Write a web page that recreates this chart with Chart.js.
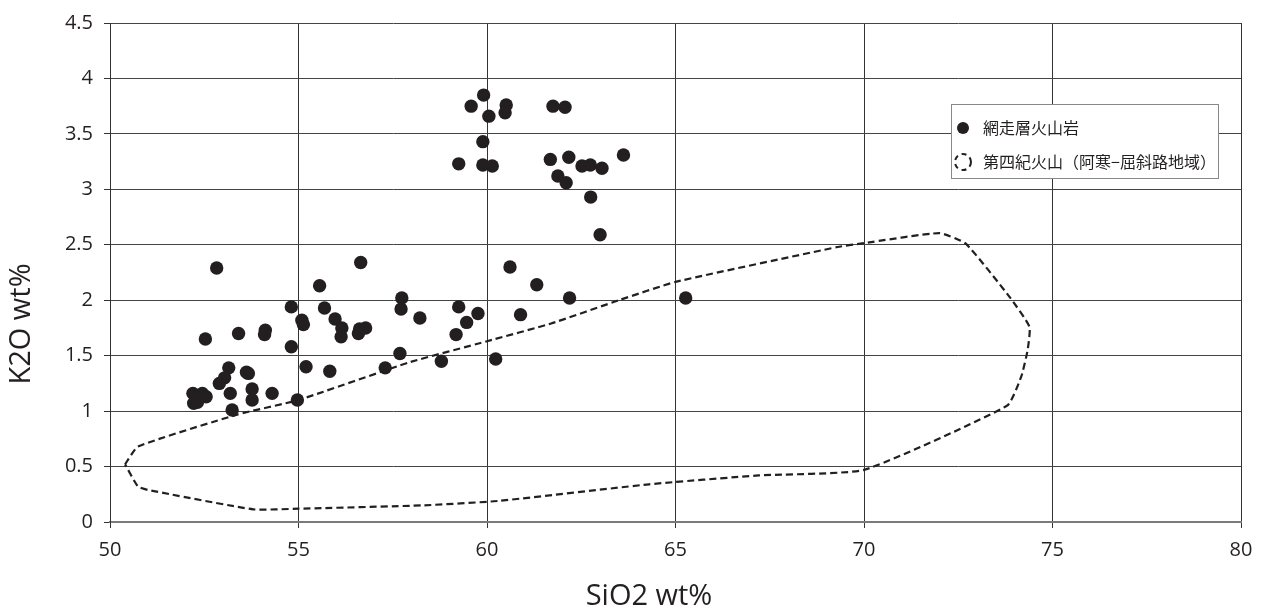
<!DOCTYPE html>
<html>
<head>
<meta charset="utf-8">
<script src="https://cdn.jsdelivr.net/npm/chart.js@4/dist/chart.umd.min.js"></script>
<style>
  html, body { margin: 0; padding: 0; background: #fff; }
  #wrap { width: 1268px; height: 615px; }
</style>
</head>
<body>
<div id="wrap"><canvas id="mainChart" width="1268" height="615"></canvas></div>
<script>
// 網走層火山岩 (SiO2, K2O)
const lavaSiO2 = [
  52.83, 56.65, 55.56, 54.81, 55.69, 57.74, 57.72, 58.22, 55.09, 55.13,
  55.97, 56.15, 56.13, 56.62, 56.78, 56.59, 52.53, 53.41, 54.12, 54.10,
  54.81, 55.20, 55.83, 57.69, 57.30, 53.15, 53.04, 52.90, 53.67, 53.62,
  52.20, 52.45, 52.55, 52.22, 52.32, 53.19, 53.77, 53.77, 54.30, 53.24,
  54.97,
  59.91, 59.58, 60.51, 60.48, 60.05, 61.75, 62.07, 59.89, 59.25, 59.89,
  60.14, 61.68, 62.17, 62.52, 62.74, 63.05, 63.62, 61.88, 62.10, 62.75,
  63.00, 60.61, 61.32, 62.19, 65.27, 59.25, 59.76, 59.46, 60.89, 59.18,
  58.79, 60.23
];
const lavaK2O = [
  2.29, 2.34, 2.13, 1.94, 1.93, 2.02, 1.92, 1.84, 1.82, 1.78,
  1.83, 1.75, 1.67, 1.74, 1.75, 1.70, 1.65, 1.70, 1.73, 1.69,
  1.58, 1.40, 1.36, 1.52, 1.39, 1.39, 1.30, 1.25, 1.34, 1.35,
  1.16, 1.16, 1.13, 1.07, 1.08, 1.16, 1.20, 1.10, 1.16, 1.01,
  1.10,
  3.85, 3.75, 3.76, 3.69, 3.66, 3.75, 3.74, 3.43, 3.23, 3.22,
  3.21, 3.27, 3.29, 3.21, 3.22, 3.19, 3.31, 3.12, 3.06, 2.93,
  2.59, 2.30, 2.14, 2.02, 2.02, 1.94, 1.88, 1.80, 1.87, 1.69,
  1.45, 1.47
];

// 第四紀火山（阿寒−屈斜路地域） outline
const fieldSiO2 = [
  50.40, 50.74, 53.39, 55.00, 57.94, 60.00, 61.70, 63.50, 65.00, 69.30,
  70.00, 72.00, 72.70, 73.86, 74.39, 74.34, 74.17, 73.80, 70.00, 67.20,
  64.30, 60.30, 58.30, 55.00, 53.80, 51.00, 50.74, 50.40
];
const fieldK2O = [
  0.52, 0.68, 0.97, 1.10, 1.44, 1.63, 1.79, 2.00, 2.165, 2.48,
  2.515, 2.605, 2.51, 2.03, 1.76, 1.55, 1.31, 1.05, 0.47, 0.42,
  0.34, 0.19, 0.15, 0.12, 0.114, 0.29, 0.32, 0.52
];

const seriesNames = ['網走層火山岩', '第四紀火山（阿寒−屈斜路地域）'];
const xTitle = 'SiO2 wt%';
const yTitle = 'K2O wt%';

const ink = '#231f20';
const tickFont = { family: '"Open Sans", "Noto Sans", sans-serif', size: 20 };

const pairs = (xs, ys) => xs.map((x, i) => ({ x: x, y: ys[i] }));

// legend box inside the plot + axis titles
const decor = {
  id: 'decor',
  afterDatasetsDraw(chart) {
    const c = chart.ctx;
    const bx = 951, by = 104, bw = 267, bh = 74;
    c.save();
    c.fillStyle = '#fff';
    c.fillRect(bx, by, bw, bh);
    c.strokeStyle = '#888';
    c.lineWidth = 1;
    c.strokeRect(bx + 0.5, by + 0.5, bw, bh);

    c.font = '16px "Noto Sans CJK JP", sans-serif';
    c.textBaseline = 'middle';
    c.textAlign = 'left';
    c.fillStyle = ink;
    // row 1 : filled dot
    c.beginPath();
    c.arc(963, 128, 6, 0, Math.PI * 2);
    c.fill();
    c.fillText(chart.data.datasets[0].label, 983, 128);
    // row 2 : dashed ring
    c.beginPath();
    c.setLineDash([5, 4]);
    c.lineWidth = 2;
    c.strokeStyle = ink;
    c.arc(963, 162, 8, 0, Math.PI * 2);
    c.stroke();
    c.setLineDash([]);
    c.fillText(chart.data.datasets[1].label, 983, 162);

    // axis titles
    c.font = '29px "Open Sans", "Noto Sans", sans-serif';
    c.textAlign = 'center';
    c.fillText(xTitle, 649, 597);
    c.translate(22, 324);
    c.rotate(-Math.PI / 2);
    c.fillText(yTitle, 0, 0);
    c.restore();
  }
};

const chart = new Chart(document.getElementById('mainChart').getContext('2d'), {
  type: 'scatter',
  data: {
    datasets: [
      {
        label: seriesNames[0],
        data: pairs(lavaSiO2, lavaK2O),
        backgroundColor: ink,
        borderWidth: 0,
        pointRadius: 6.7,
        pointHoverRadius: 6.7
      },
      {
        label: seriesNames[1],
        data: pairs(fieldSiO2, fieldK2O),
        showLine: true,
        borderColor: ink,
        borderWidth: 2.2,
        borderDash: [7, 4],
        tension: 0.15,
        pointRadius: 0,
        fill: false
      }
    ]
  },
  options: {
    responsive: false,
    animation: false,
    devicePixelRatio: 1,
    layout: { padding: { top: 21, right: 27, left: 0, bottom: 0 } },
    plugins: {
      legend: { display: false },
      tooltip: { enabled: false }
    },
    scales: {
      x: {
        type: 'linear',
        min: 50, max: 80,
        ticks: { stepSize: 5, color: ink, font: tickFont, padding: 10 },
        grid: { color: '#333', lineWidth: 1, tickLength: 6, tickColor: '#333' },
        border: { color: '#7a7a7a', width: 2 },
        afterFit: s => { s.height = 93; }
      },
      y: {
        min: 0, max: 4.5,
        ticks: {
          stepSize: 0.5, color: ink, font: tickFont, padding: 11,
          callback: v => String(Math.round(v * 10) / 10)
        },
        grid: { color: '#444', lineWidth: 1, tickLength: 6, tickColor: '#333' },
        border: { color: '#333', width: 1 },
        afterFit: s => { s.width = 110; }
      }
    }
  },
  plugins: [decor]
});
</script>
</body>
</html>
